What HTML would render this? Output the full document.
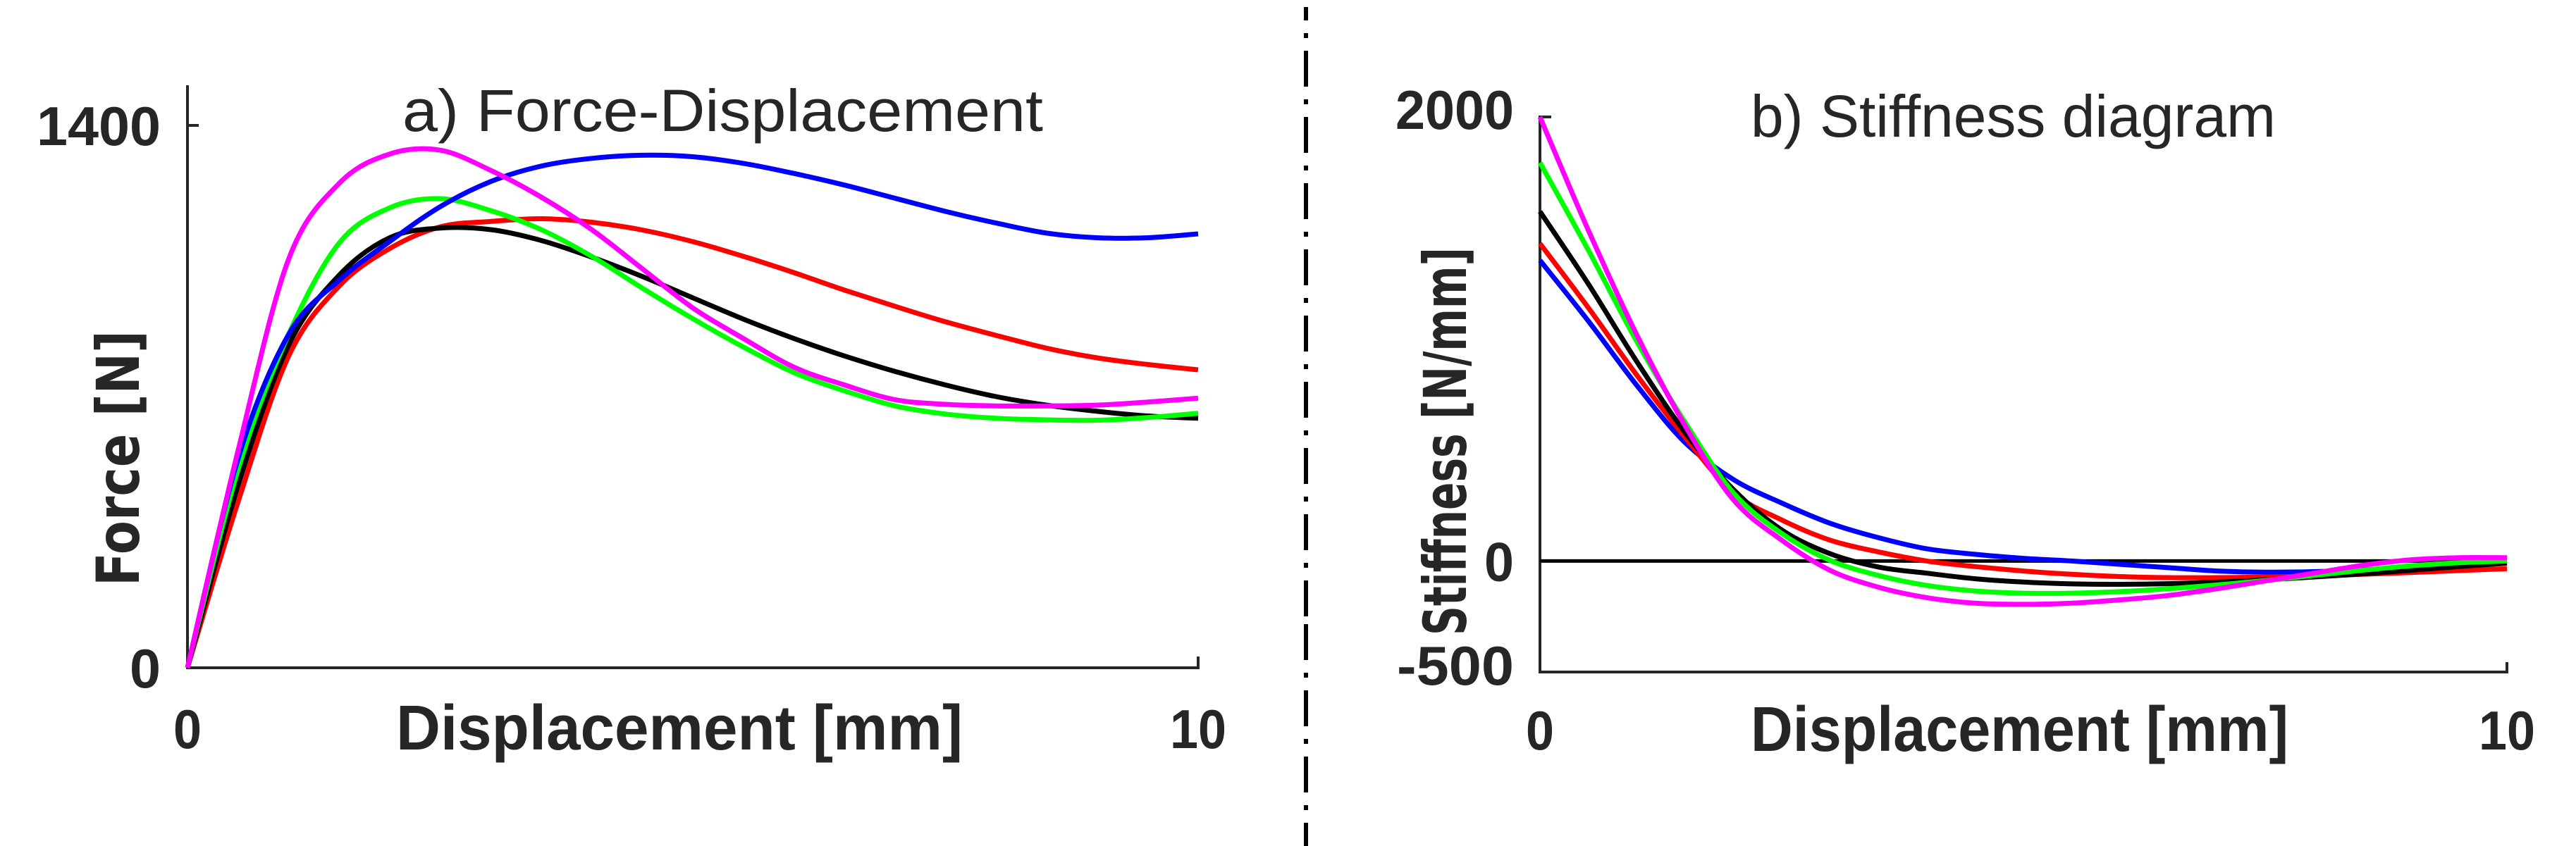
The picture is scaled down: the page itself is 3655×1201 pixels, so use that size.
<!DOCTYPE html>
<html><head><meta charset="utf-8"><style>
html,body{margin:0;padding:0;background:#fff;}
svg{display:block;}
text{fill:#262626;}
</style></head><body>
<svg id="chart" width="3655" height="1201" viewBox="0 0 3655 1201" xmlns="http://www.w3.org/2000/svg">
<g id="plotA"></g>
<g id="plotB"></g>
<line x1="1853" y1="886" x2="1853" y2="1201" stroke="#000" stroke-width="6" stroke-dasharray="51,18,7,18"/>
<line x1="1853" y1="10" x2="1853" y2="886" stroke="#000" stroke-width="6" stroke-dasharray="51,18,7,18" stroke-dashoffset="-62"/>
</svg>
<script>
const xCats = [0,0.5,1,1.5,2,2.5,3,3.5,4,4.5,5,5.5,6,6.5,7,7.5,8,8.5,9,9.5,10];
const forceBlue    = [0,539,860,1000,1100,1190,1255,1295,1315,1323,1319,1302,1276,1246,1212,1178,1148,1122,1110,1110,1120];
const forceMagenta = [0,560,1054,1250,1326,1336,1284,1215,1131,1030,929,850,776,730,692,680,676,676,678,686,696];
const forceGreen   = [0,511,860,1096,1187,1211,1180,1131,1062,980,901,828,762,715,676,655,644,640,639,646,657];
const forceBlack   = [0,470,832,1013,1110,1135,1131,1103,1060,1010,955,900,850,805,765,730,700,678,662,650,644];
const forceRed     = [0,428,804,985,1082,1138,1152,1159,1150,1130,1100,1062,1020,975,933,893,858,825,800,783,769];
const stiffBlue    = [1354,1081,792,534,367,261,170,105,55,30,12,0,-15,-30,-45,-50,-48,-40,-28,-15,-5];
const stiffRed     = [1430,1141,838,557,307,185,94,41,0,-25,-45,-60,-70,-75,-75,-72,-68,-60,-52,-43,-35];
const stiffBlack   = [1574,1248,899,580,322,140,33,-27,-55,-80,-95,-103,-105,-102,-95,-85,-72,-58,-42,-25,-10];
const stiffGreen   = [1794,1400,990,625,307,124,3,-65,-110,-135,-145,-145,-138,-125,-108,-88,-65,-42,-22,-8,0];
const stiffMagenta = [2000,1490,1020,610,276,94,-42,-118,-165,-190,-195,-190,-175,-155,-125,-90,-55,-20,5,15,15];
const forceTicks = ["0","1400"];
const stiffTicks = ["-500","0","2000"];
const xTicks = ["0","10"];

const NS="http://www.w3.org/2000/svg";
function mk(parent,tag,attrs,txt){const e=document.createElementNS(NS,tag);for(const k in attrs)e.setAttribute(k,attrs[k]);if(txt!==undefined)e.textContent=txt;parent.appendChild(e);return e;}
function pathD(pts){let d="M"+pts[0][0].toFixed(1)+","+pts[0][1].toFixed(1);
 for(let i=0;i<pts.length-1;i++){const p0=pts[i-1]||pts[i],p1=pts[i],p2=pts[i+1],p3=pts[i+2]||p2;
  const c1=[p1[0]+(p2[0]-p0[0])/6,p1[1]+(p2[1]-p0[1])/6],c2=[p2[0]-(p3[0]-p1[0])/6,p2[1]-(p3[1]-p1[1])/6];
  d+="C"+c1[0].toFixed(1)+","+c1[1].toFixed(1)+" "+c2[0].toFixed(1)+","+c2[1].toFixed(1)+" "+p2[0].toFixed(1)+","+p2[1].toFixed(1);}
 return d;}
const font='"Liberation Sans", sans-serif';

// ---- Plot A
const A=document.getElementById('plotA');
const ax=v=>266+v/10*(1700-266), ay=v=>948-v/1400*(948-178);
let e;
e=mk(A,'line',{x1:266,y1:121,x2:266,y2:950,stroke:'#262626','stroke-width':4});


e=mk(A,'line',{x1:264,y1:948,x2:1702,y2:948,stroke:'#262626','stroke-width':4});


e=mk(A,'line',{x1:266,y1:ay(1400),x2:282,y2:ay(1400),stroke:'#262626','stroke-width':4});


e=mk(A,'line',{x1:1700,y1:932,x2:1700,y2:950,stroke:'#262626','stroke-width':4});


const fv=[0,1400];
forceTicks.forEach((t,i)=>{e=mk(A,'text',{x:228,y:ay(fv[i])+28,'text-anchor':'end','font-family':font,'font-weight':'bold','font-size':78,textLength:t.length*44,lengthAdjust:'spacingAndGlyphs'},t);

});
const xv=[0,10];
xTicks.forEach((t,i)=>{e=mk(A,'text',{x:ax(xv[i]),y:1062,'text-anchor':'middle','font-family':font,'font-weight':'bold','font-size':78,textLength:t.length*40,lengthAdjust:'spacingAndGlyphs'},t);

});
e=mk(A,'text',{x:562,y:1064,'font-family':font,'font-weight':'bold','font-size':90,textLength:804,lengthAdjust:'spacingAndGlyphs'},'Displacement [mm]');


e=mk(A,'text',{x:0,y:0,'font-family':'"DejaVu Sans", sans-serif','font-weight':'bold','font-size':84,textLength:363,lengthAdjust:'spacingAndGlyphs',transform:'translate(197,832) rotate(-90)'},'Force [N]');


e=mk(A,'text',{x:571,y:186,'font-family':font,'font-size':84,textLength:909,lengthAdjust:'spacingAndGlyphs'},'a) Force-Displacement');


[[forceRed,'#ff0000','force-red'],[forceBlack,'#000000','force-black'],[forceGreen,'#00ff00','force-green'],[forceBlue,'#0000ff','force-blue'],[forceMagenta,'#ff00ff','force-magenta']].forEach(s=>{
 const pts=xCats.map((x,i)=>[ax(x),ay(s[0][i])]);
 e=mk(A,'path',{d:pathD(pts),fill:'none',stroke:s[1],'stroke-width':7,'stroke-linejoin':'round'});
 
 
});

// ---- Plot B
const B=document.getElementById('plotB');
const bx=v=>2185+v/10*(3557-2185), by=v=>954-(v+500)/2500*(954-166);
e=mk(B,'line',{x1:2185,y1:164,x2:2185,y2:956,stroke:'#262626','stroke-width':4});


e=mk(B,'line',{x1:2183,y1:954,x2:3559,y2:954,stroke:'#262626','stroke-width':4});


e=mk(B,'line',{x1:2185,y1:166,x2:2201,y2:166,stroke:'#262626','stroke-width':4});


e=mk(B,'line',{x1:3557,y1:940,x2:3557,y2:956,stroke:'#262626','stroke-width':4});


const sv=[-500,0,2000];
stiffTicks.forEach((t,i)=>{let yy=by(sv[i])+28; if(sv[i]===-500) yy=by(-500)+18; if(sv[i]===2000) yy=by(2000)+17;
 e=mk(B,'text',{x:2148,y:yy,'text-anchor':'end','font-family':font,'font-weight':'bold','font-size':78,textLength:t==='-500'?166:t.length*42,lengthAdjust:'spacingAndGlyphs'},t);
 
 });
xTicks.forEach((t,i)=>{e=mk(B,'text',{x:bx(xv[i]),y:1064,'text-anchor':'middle','font-family':font,'font-weight':'bold','font-size':78,textLength:t.length*40,lengthAdjust:'spacingAndGlyphs'},t);

});
e=mk(B,'text',{x:2484,y:1066,'font-family':font,'font-weight':'bold','font-size':90,textLength:763,lengthAdjust:'spacingAndGlyphs'},'Displacement [mm]');


e=mk(B,'text',{x:0,y:0,'font-family':'"DejaVu Sans", sans-serif','font-weight':'bold','font-size':84,textLength:551,lengthAdjust:'spacingAndGlyphs',transform:'translate(2080,902) rotate(-90)'},'Stiffness [N/mm]');


e=mk(B,'text',{x:2484,y:194,'font-family':font,'font-size':84,textLength:745,lengthAdjust:'spacingAndGlyphs'},'b) Stiffness diagram');


e=mk(B,'line',{x1:2185,y1:by(0),x2:3557,y2:by(0),stroke:'#000','stroke-width':5});


[[stiffBlue,'#0000ff','stiffness-blue'],[stiffRed,'#ff0000','stiffness-red'],[stiffBlack,'#000000','stiffness-black'],[stiffGreen,'#00ff00','stiffness-green'],[stiffMagenta,'#ff00ff','stiffness-magenta']].forEach(s=>{
 const pts=xCats.map((x,i)=>[bx(x),by(s[0][i])]);
 e=mk(B,'path',{d:pathD(pts),fill:'none',stroke:s[1],'stroke-width':7,'stroke-linejoin':'round'});
 
 
});
</script>
</body></html>
